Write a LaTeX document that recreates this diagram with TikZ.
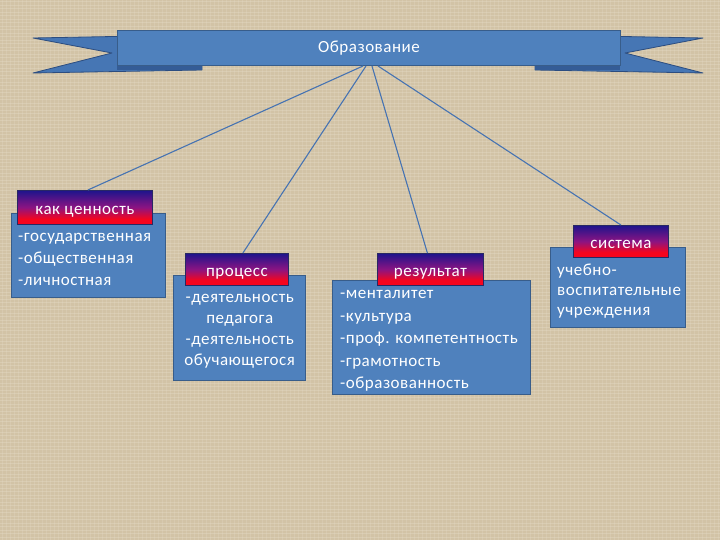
\documentclass[tikz,border=0pt]{standalone}
\usepackage{fontspec}
\setmainfont{Carlito}[LetterSpace=3]
\definecolor{bgc}{RGB}{210,195,166}
\definecolor{bglight}{RGB}{232,222,202}
\definecolor{boxfill}{RGB}{79,129,189}
\definecolor{boxline}{RGB}{56,93,138}
\definecolor{tailfill}{RGB}{70,118,180}
\definecolor{tailline}{RGB}{44,77,128}
\definecolor{foldfill}{RGB}{52,92,150}
\definecolor{conn}{RGB}{70,115,178}
\definecolor{hred}{RGB}{245,5,30}
\definecolor{hmag}{RGB}{140,20,130}
\definecolor{hnavy}{RGB}{30,20,140}
\definecolor{hline}{RGB}{40,40,100}
\pgfdeclareverticalshading{hdrshade}{100bp}{color(0bp)=(hred); color(25bp)=(hred); color(33bp)=(hred); color(50bp)=(hmag); color(75bp)=(hnavy); color(100bp)=(hnavy)}
\newcommand{\hdrtxt}[1]{\raisebox{-7pt}[0pt][0pt]{#1}}
\tikzset{
  bodybox/.style={draw=boxline, line width=1.4pt, fill=boxfill, anchor=north west, inner sep=0pt},
  bodytext/.style={inner sep=0pt, text=white, font=\fontsize{17}{22}\selectfont},
  hdrbox/.style={draw=hline, line width=0.8pt, shading=hdrshade, anchor=north west, inner sep=0pt, text=white, font=\fontsize{17}{19}\selectfont},
  tailshape/.style={fill=tailfill, draw=tailline, line width=0.8pt, line join=round},
  connline/.style={draw=conn, line width=1.1pt}
}
\begin{document}
\begin{tikzpicture}[x=1pt,y=-1pt]
\useasboundingbox (0,0) rectangle (720,540);
\fill[bgc] (0,0) rectangle (720,540);
\foreach \yy in {1.5,5,...,540} {\draw[bglight, line width=0.7pt, opacity=0.35] (0,\yy) -- (720,\yy);}
\foreach \xx in {2,6,...,720} {\draw[bglight, line width=0.6pt, opacity=0.25] (\xx,0) -- (\xx,540);}
% ribbon tails
\draw[tailshape] (33,38) -- (140,36) -- (140,66) -- (202,66) -- (202,70) -- (33,73) -- (112,53) -- cycle;
\fill[foldfill] (117,64) rectangle (202,70);
\draw[tailshape] (703,38) -- (597,36) -- (597,66) -- (535,66) -- (535,70) -- (703,73) -- (625,53) -- cycle;
\fill[foldfill] (535,64) rectangle (620,70);
% banner
\node[draw=boxline, line width=1pt, fill=boxfill, anchor=north west, minimum width=503pt, minimum height=35pt, inner sep=0pt, text=white, font=\fontsize{17}{19}\selectfont] (ban) at (117,30) {Образование};
% bodies
\node[bodybox, minimum width=154pt, minimum height=84pt] (b1) at (11,213) {};
\node[bodytext, anchor=west, align=left] (t1) at ([xshift=7pt,yshift=-3.5pt]b1.west) {-государственная\\-общественная\\-личностная};
\node[bodybox, minimum width=132pt, minimum height=105pt] (b2) at (173,275) {};
\node[bodytext, align=center, font=\fontsize{17}{21}\selectfont] (t2) at ([yshift=-3.5pt]b2.center) {-деятельность\\педагога\\-деятельность\\обучающегося};
\node[bodybox, minimum width=198pt, minimum height=114pt] (b3) at (332,280) {};
\node[bodytext, anchor=west, align=left, font=\fontsize{17}{22.5}\selectfont] (t3) at ([xshift=8pt,yshift=-3.5pt]b3.west) {-менталитет\\-культура\\-проф. компетентность\\-грамотность\\-образованность};
\node[bodybox, minimum width=135pt, minimum height=80pt] (b4) at (550,247) {};
\node[bodytext, anchor=west, align=left, font=\fontsize{17}{20}\selectfont] (t4) at ([xshift=7pt,yshift=-3.5pt]b4.west) {учебно-\\воспитательные\\учреждения};
% headers
\node[hdrbox, minimum width=135pt, minimum height=34pt] (h1) at (17,190) {\hdrtxt{как ценность}};
\node[hdrbox, minimum width=103pt, minimum height=32pt] (h2) at (185,253) {\hdrtxt{процесс}};
\node[hdrbox, minimum width=106pt, minimum height=32pt] (h3) at (377,253) {\hdrtxt{результат}};
\node[hdrbox, minimum width=95pt, minimum height=32pt] (h4) at (573,225) {\hdrtxt{система}};
% connectors
\draw[connline] ([xshift=-6pt]ban.south) -- ([xshift=3pt]h1.north);
\draw[connline] ([xshift=-3pt]ban.south) -- ([xshift=6pt]h2.north);
\draw[connline] ([xshift=3pt]ban.south) -- ([xshift=-3pt]h3.north);
\draw[connline] ([xshift=9pt]ban.south) -- (h4.north);
\end{tikzpicture}
\end{document}
